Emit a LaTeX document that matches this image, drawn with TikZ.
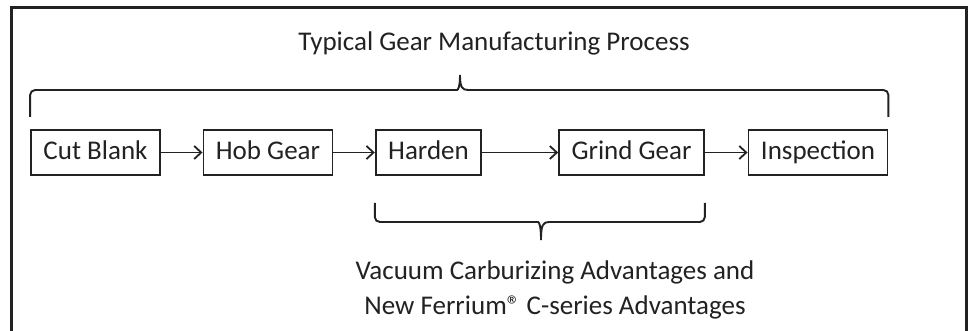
\documentclass[tikz,border=0pt]{standalone}
\usepackage{fontspec}
\setmainfont{Carlito}
\usetikzlibrary{positioning,arrows.meta}

\definecolor{inkgray}{HTML}{222222}
\tikzset{
  stepbox/.style={draw=inkgray, line width=1.8pt, minimum height=45pt,
    text height=19pt, text depth=5pt,
    inner xsep=12.5pt, text=inkgray, font=\fontsize{27}{32}\selectfont},
  flow/.style={draw=inkgray, line width=1.8pt, -{Straight Barb[length=7pt,width=13pt]}},
  curly/.style={draw=inkgray, line width=1.9pt},
  caption/.style={text=inkgray, font=\fontsize{27}{35}\selectfont, align=center}
}

\begin{document}
\begin{tikzpicture}[x=1pt,y=-1pt]
   \useasboundingbox (0,0) rectangle (972,331);
   \fill[white] (0,0) rectangle (972,331);
   % outer frame, open at the bottom
   \draw[inkgray, line width=3pt] (11,340) -- (11,8) -- (966,8) -- (966,340);

   \node[caption] (title) at (494,43) {Typical Gear Manufacturing Process};

   \node[stepbox] (cut) at (95.5,152.5) {Cut Blank};
   \node[stepbox] (hob) at (268,152.5) {Hob Gear};
   \node[stepbox] (harden) at (428.5,152.5) {Harden};
   \node[stepbox] (grind) at (631.5,152.5) {Grind Gear};
   \node[stepbox] (insp) at (818,152.5) {Inspection};

   \draw[flow] (cut) -- (hob);
   \draw[flow] (hob) -- (harden);
   \draw[flow] (harden) -- (grind);
   \draw[flow] (grind) -- (insp);

   % brace over the whole process
   \draw[curly] (cut.west |- 0,117) [rounded corners=5pt] -- (cut.west |- 0,90)
     -- (452,90) [sharp corners] .. controls (458,90) and (460,87) .. (460,75)
     .. controls (460,87) and (462,90) .. (468,90) [rounded corners=5pt]
     -- (insp.east |- 0,90) -- (insp.east |- 0,117);

   % brace under harden and grind
   \draw[curly] (harden.west |- 0,203) [rounded corners=5pt] -- (harden.west |- 0,222)
     -- (533,222) [sharp corners] .. controls (539,222) and (541,225) .. (541,240)
     .. controls (541,225) and (543,222) .. (549,222) [rounded corners=5pt]
     -- (grind.east |- 0,222) -- (grind.east |- 0,203);

   \node[caption] (adv) at (555,290) {Vacuum Carburizing Advantages and\\
     New Ferrium® C-series Advantages};
\end{tikzpicture}
\end{document}
